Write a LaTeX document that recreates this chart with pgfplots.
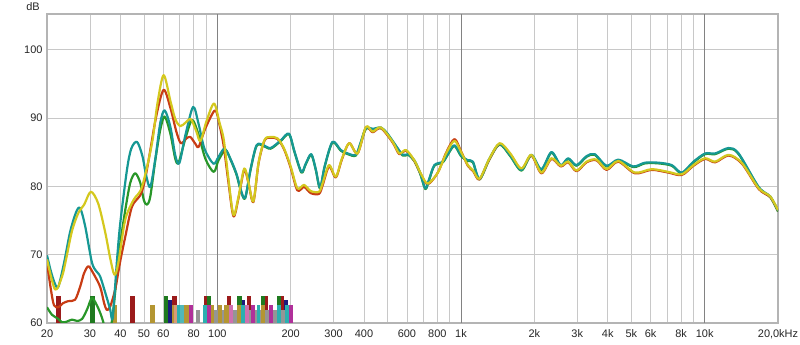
\documentclass[border=0pt]{standalone}
\usepackage{fontspec}
\setmainfont{Liberation Sans}
\usepackage{pgfplots}
\pgfplotsset{compat=1.18}
\definecolor{cteal}{RGB}{22,152,148}
\definecolor{cgreen}{RGB}{40,150,40}
\definecolor{cred}{RGB}{200,60,20}
\definecolor{cyel}{RGB}{212,200,30}
\definecolor{gridgray}{RGB}{200,200,200}
\definecolor{darkgrid}{RGB}{130,130,130}
\definecolor{framegray}{RGB}{180,180,180}
\definecolor{bdred}{RGB}{155,27,27}
\definecolor{bgreen}{RGB}{31,122,31}
\definecolor{bnavy}{RGB}{28,28,124}
\definecolor{bgold}{RGB}{180,150,50}
\definecolor{bsalmon}{RGB}{216,154,120}
\definecolor{bteal}{RGB}{42,176,176}
\definecolor{blteal}{RGB}{80,184,184}
\definecolor{bmag}{RGB}{176,48,154}
\definecolor{bpink}{RGB}{208,112,176}
\definecolor{bgray}{RGB}{149,149,149}
\newcommand\fbar[4]{\addplot[fill=#4,draw=none,forget plot] coordinates {(#1,60) (#1,#3) (#2,#3) (#2,60)} --cycle;}
\begin{document}
\begin{tikzpicture}
\begin{axis}[
  name=ax, at={(0,0)}, anchor=south west,
  scale only axis, width=731bp, height=309bp,
  xmode=log, xmin=20, xmax=20000, ymin=60, ymax=105.2,
  xtick={20,30,40,50,60,80,100,200,300,400,600,800,1000,2000,3000,4000,5000,6000,8000,10000,20000},
  xticklabels={20,30,40,50,60,80,100,200,300,400,600,800,1k,2k,3k,4k,5k,6k,8k,10k,{20,0kHz}},
  minor xtick={70,90,500,700,900,7000,9000},
  ytick={60,70,80,90,100}, yticklabels={60,70,80,90,100},
  xmajorgrids, xminorgrids, ymajorgrids,
  major grid style={draw=gridgray, line width=0.8bp},
  minor grid style={draw=gridgray, line width=0.8bp},
  extra x ticks={100,1000,10000}, extra x tick labels={,,},
  extra x tick style={grid=major, major grid style={draw=darkgrid, line width=0.8bp}},
  major tick length=0, minor tick length=0,
  tick label style={font=\fontsize{11}{13}\selectfont, text=black!85},
  xticklabel style={yshift=-3bp},
  yticklabel style={xshift=-1bp},
  axis line style={draw=framegray, line width=2.4bp},
  every axis plot/.append style={line join=round},
]
% bars, tallest first
\fbar{21.78}{22.84}{64}{bdred}
\fbar{30.06}{31.52}{64}{bgreen}
\fbar{43.92}{46.05}{64}{bdred}
\fbar{60.20}{62.76}{64}{bgreen}
\fbar{65.19}{68.35}{64}{bdred}
\fbar{87.95}{90.83}{64}{bdred}
\fbar{90.83}{94.33}{64}{bgreen}
\fbar{109.06}{114.02}{64}{bdred}
\fbar{120.69}{125.71}{64}{bgreen}
\fbar{131.81}{137.81}{64}{bdred}
\fbar{150.51}{156.32}{64}{bgreen}
\fbar{156.32}{160.83}{64}{bdred}
\fbar{175.15}{181.91}{64}{bgreen}
\fbar{181.91}{187.69}{64}{bdred}
\fbar{62.76}{65.19}{63.3}{bnavy}
\fbar{125.71}{129.34}{63.3}{bnavy}
\fbar{187.69}{194.95}{63.3}{bnavy}
\fbar{134.33}{203.83}{61.9}{bgray}
\fbar{82.07}{85.24}{61.9}{bgray}
\fbar{97.33}{100.43}{61.9}{bgray}
\fbar{104.70}{107.01}{61.9}{bgray}
\fbar{115.44}{120.69}{61.9}{bgray}
\fbar{37.14}{38.72}{62.7}{bgold}
\fbar{53.08}{55.65}{62.7}{bgold}
\fbar{65.19}{66.6}{62.7}{bgold}
\fbar{66.6}{68.35}{62.7}{bsalmon}
\fbar{68.35}{70.52}{62.7}{bteal}
\fbar{70.52}{72.76}{62.7}{blteal}
\fbar{72.76}{76.30}{62.7}{bgold}
\fbar{76.30}{79.54}{62.7}{bmag}
\fbar{87.12}{90.83}{62.7}{bteal}
\fbar{90.83}{94.33}{62.7}{bmag}
\fbar{94.33}{97.33}{62.7}{bgold}
\fbar{100.43}{104.70}{62.7}{bgold}
\fbar{107.01}{111.46}{62.7}{bgold}
\fbar{111.46}{115.44}{62.7}{bpink}
\fbar{120.69}{124.53}{62.7}{bgold}
\fbar{124.53}{129.34}{62.7}{bteal}
\fbar{129.34}{134.33}{62.7}{bpink}
\fbar{137.81}{142.19}{62.7}{bmag}
\fbar{144.91}{149.09}{62.7}{bteal}
\fbar{150.51}{156.32}{62.7}{bgold}
\fbar{162.36}{168.63}{62.7}{bmag}
\fbar{175.15}{181.91}{62.7}{bteal}
\fbar{188.94}{196.25}{62.7}{bteal}
\fbar{196.25}{203.83}{62.7}{bmag}
% green
\addplot[cgreen, line width=2.2bp, smooth, tension=0.5] coordinates {
(20,62.3) (20.97,61.2) (22.26,60.6) (23.05,60.1) (24.1,60.2) (25.34,60.5) (26.57,60.3) (27.87,60.6) (29.22,62.0) (30.55,63.65) (31.82,62.8) (33.05,61.5) (34.0,60.2) (34.65,59.0) (35.65,58.3) (37.03,60.5) (38.46,66.0) (39.94,71.5) (41.89,76.5) (43.92,80.5) (46.05,81.9) (48.29,80.5) (49.91,78.0) (51.45,77.3) (53.08,78.5) (55.65,83.8) (58.35,88.3) (60.78,90.2) (64.16,87.7) (67.25,84.0) (69.4,83.5) (73.97,87.0) (78.8,89.7) (83.67,87.6) (89.38,84.0) (96.7,82.1) (101.1,83.8) (108.0,85.3) (113.26,83.9) (119.9,81.7) (124.53,79.5) (129.95,78.2) (136.9,82.4) (144.91,85.9) (154.85,85.9) (165.5,85.5) (181.91,86.6) (196.8,87.6) (207.7,84.9) (221.4,82.0) (230.5,83.2) (242.9,84.6) (253.5,82.4) (264.0,79.7) (276.0,82.9) (296.9,86.4) (321.2,85.2) (343.3,84.7) (370.3,84.5) (388.2,86.4) (407.2,88.4) (435.0,88.3) (469.2,88.5) (496.8,87.7) (532.2,86.2) (576.4,84.5) (606.0,84.6) (643.3,83.7) (679,81.9) (714.1,79.6) (739.6,80.9) (777.6,83.0) (842.1,83.5) (885.4,84.7) (939.9,85.9) (1001,84.4) (1067,83.7) (1119,83.5) (1191,81.0) (1306,83.9) (1440,86.1) (1593,84.4) (1769,82.3) (1944,84.5) (2137,82.4) (2350,84.9) (2566,83.0) (2753,84.0) (2978,83.0) (3274,84.3) (3541,84.6) (3957,82.9) (4421,83.8) (5096,82.8) (5688,83.35) (6458,83.35) (7327,83.0) (8053,81.9) (8998,83.5) (10044,84.7) (11042,84.7) (12538,85.5) (13785,84.7) (16661,79.8) (18592,78.4) (20000,76.3)};
% red
\addplot[cred, line width=2.2bp, smooth, tension=0.5] coordinates {
(20,68.8) (20.77,64.8) (21.37,62.6) (22.26,62.3) (23.27,62.9) (24.47,63.2) (26.07,63.4) (27.35,65.3) (28.4,67.3) (29.58,68.3) (30.93,67.3) (33.05,65.3) (34.32,62.9) (35.21,61.9) (36.33,62.4) (38.09,64.9) (39.94,69.0) (41.89,72.6) (44.63,77.0) (48.29,78.7) (50.15,80.5) (52.23,83.8) (56.18,90.3) (60.2,94.1) (64.16,91.5) (67.89,88.0) (70.86,86.3) (74.67,87.0) (77.54,87.2) (81.31,86.2) (83.9,85.8) (89.38,88.5) (97.84,91.1) (102.06,89.0) (106.3,85.8) (111.14,80.5) (116.5,75.6) (122.19,78.3) (128.97,82.4) (134.33,80.4) (140.6,77.7) (147.7,83.4) (156.32,86.7) (165.5,87.1) (176.8,86.9) (188.0,85.4) (200,82.7) (213.1,79.4) (226.9,79.9) (241.8,79.0) (261.5,78.9) (270.8,80.2) (287.5,82.9) (306.3,81.3) (324.3,83.9) (347.5,86.3) (376.3,84.8) (407.2,88.6) (433.8,87.9) (469.2,88.5) (524.3,86.4) (558.2,84.7) (594.7,85.2) (643.3,83.7) (685.4,81.7) (730.6,80.3) (803.1,82.0) (868.8,84.9) (939.9,86.9) (1001,85.1) (1067,83.0) (1122,82.2) (1191,81.0) (1306,83.9) (1440,86.2) (1593,84.7) (1769,82.5) (1944,84.5) (2137,81.9) (2350,84.0) (2566,82.9) (2753,83.5) (2978,82.2) (3274,83.5) (3599,83.8) (3957,82.4) (4421,83.6) (5174,81.9) (6060,82.4) (7101,82.0) (8053,81.65) (8998,83.0) (10044,84.0) (11042,83.5) (12538,84.5) (14225,83.3) (16661,79.6) (18592,78.4) (20000,76.4)};
% teal
\addplot[cteal, line width=2.2bp, smooth, tension=0.5] coordinates {
(20,69.9) (20.77,67.5) (21.58,65.7) (22.26,65.3) (23.5,68.8) (24.87,73.3) (26.32,76.2) (27.35,76.8) (28.67,74.2) (30.55,68.9) (31.82,67.6) (33.05,66.8) (34.98,64.0) (36.33,62.0) (37.2,60.8) (38.72,69.0) (39.94,74.5) (42.57,82.4) (44.34,85.5) (46.79,86.5) (49.21,84.5) (51.11,81.5) (53.08,79.9) (55.65,84.0) (58.35,89.3) (60.78,91.1) (64.16,88.7) (67.25,84.5) (69.86,83.4) (73.97,87.5) (79.54,91.6) (83.67,89.2) (88.54,85.5) (96.43,83.3) (101.1,84.3) (107.01,85.5) (113.26,84.0) (119.9,81.8) (124.53,79.6) (129.95,78.3) (136.9,82.5) (144.91,86.0) (154.85,86.0) (165.5,85.6) (181.91,86.7) (196.8,87.7) (207.7,85.0) (221.4,82.1) (230.5,83.3) (242.9,84.7) (253.5,82.5) (264.0,79.8) (276.0,83.0) (296.9,86.5) (321.2,85.3) (343.3,84.8) (370.3,84.6) (388.2,86.5) (407.2,88.5) (435.0,88.4) (469.2,88.6) (496.8,87.8) (532.2,86.3) (576.4,84.6) (606.0,84.7) (643.3,83.8) (679,82.0) (714.1,79.7) (739.6,81.0) (777.6,83.1) (842.1,83.6) (885.4,84.8) (939.9,86.0) (1001,84.5) (1067,83.8) (1119,83.6) (1191,81.1) (1306,84.0) (1440,86.2) (1593,84.5) (1769,82.4) (1944,84.6) (2137,82.5) (2350,85.0) (2566,83.1) (2753,84.1) (2978,83.1) (3274,84.4) (3541,84.7) (3957,83.0) (4421,83.9) (5096,82.9) (5688,83.45) (6458,83.45) (7327,83.1) (8053,82.0) (8998,83.6) (10044,84.8) (11042,84.8) (12538,85.6) (13785,84.8) (16661,79.9) (18592,78.5) (20000,76.4)};
% yellow
\addplot[cyel, line width=2.2bp, smooth, tension=0.5] coordinates {
(20,69.3) (21.58,64.9) (23.05,66.8) (23.94,69.3) (25.34,73.5) (26.9,76.1) (28.4,77.3) (30.26,79.2) (32.43,77.5) (34.65,73.3) (36.33,69.5) (37.84,67.05) (39.2,68.7) (41.89,75.1) (45.31,78.0) (49.07,79.9) (53.94,86.3) (56.72,92.0) (60.2,96.25) (64.16,92.5) (67.25,89.8) (70.52,88.8) (73.97,89.3) (77.9,89.8) (82.07,88.0) (85.24,86.6) (90.23,89.5) (96.9,92.1) (102.06,89.3) (106.3,86.8) (111.14,81.0) (116.5,75.8) (122.19,78.5) (128.97,82.6) (134.33,80.5) (140.6,77.8) (147.7,83.5) (156.32,86.8) (165.5,87.2) (176.8,87.0) (188.0,85.5) (200,82.9) (213.1,79.7) (226.9,80.2) (241.8,79.3) (261.5,79.2) (270.8,80.5) (287.5,83.1) (306.3,81.4) (324.3,84.0) (347.5,86.3) (376.3,84.8) (407.2,88.7) (433.8,88.0) (469.2,88.6) (524.3,86.5) (558.2,84.8) (594.7,85.3) (643.3,83.8) (685.4,81.8) (730.6,80.4) (803.1,82.0) (868.8,84.8) (939.9,86.65) (1001,85.0) (1067,83.1) (1122,82.3) (1191,81.1) (1306,84.0) (1440,86.3) (1593,84.8) (1769,82.6) (1944,84.6) (2137,82.0) (2350,84.1) (2566,83.0) (2753,83.6) (2978,82.3) (3274,83.6) (3599,83.9) (3957,82.5) (4421,83.7) (5174,82.0) (6060,82.5) (7101,82.1) (8053,81.75) (8998,83.1) (10044,84.1) (11042,83.6) (12538,84.6) (14225,83.4) (16661,79.7) (18592,78.5) (20000,76.5)};
\end{axis}
\node[font=\fontsize{11}{13}\selectfont, text=black!85] at (-14bp,316bp) {dB};
\pgfresetboundingbox
\path (-47bp,-22bp) rectangle (753bp,323bp);
\end{tikzpicture}
\end{document}
